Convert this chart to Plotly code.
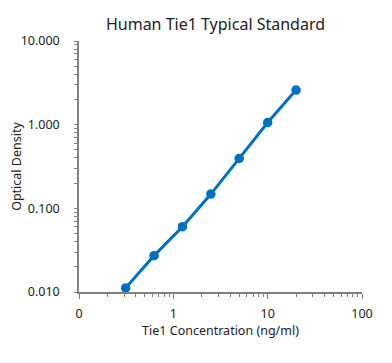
import plotly.graph_objects as go

concentration = [0.3125, 0.625, 1.25, 2.5, 5, 10, 20]
optical_density = [0.0112, 0.0272, 0.0603, 0.148, 0.395, 1.06, 2.59]

x_tickvals = [0.1, 1, 10, 100]
x_ticktext = ["0", "1", "10", "100"]
y_tickvals = [0.01, 0.1, 1, 10]
y_ticktext = ["0.010", "0.100", "1.000", "10.000"]
x_minor = [m * d for d in (0.1, 1, 10) for m in range(2, 10)]
y_minor = [m * d for d in (0.01, 0.1, 1) for m in range(2, 10)]

axis_color = "#808080"
font_family = "Noto Sans"

# page body has an 8px default margin, so the figure is shifted by 8px
fig = go.Figure()
fig.add_trace(go.Scatter(
    x=concentration, y=optical_density, mode="lines+markers",
    line=dict(color="#0070C0", width=3),
    marker=dict(color="#0070C0", size=9.5),
    cliponaxis=False,
))

fig.update_layout(
    width=384, height=355,
    margin=dict(l=71, r=30, t=33, b=71, autoexpand=False),
    paper_bgcolor="white", plot_bgcolor="white",
    showlegend=False,
    font=dict(family=font_family, color="#222222", size=12),
    title=dict(text="Human Tie1 Typical Standard", x=207.5 / 384, xanchor="center",
               y=1 - 16 / 355, yanchor="middle", font=dict(size=16, color="#222222")),
)
fig.update_xaxes(
    type="log", range=[-1, 2], automargin=False,
    tickvals=x_tickvals, ticktext=x_ticktext,
    showgrid=False, zeroline=False,
    showline=True, linecolor=axis_color, linewidth=1.5,
    ticks="outside", ticklen=5, tickcolor=axis_color,
    ticklabelstandoff=4,
    minor=dict(ticks="outside", ticklen=3, tickcolor=axis_color, showgrid=False,
               tickvals=x_minor),
    title=dict(text="Tie1 Concentration (ng/ml)", font=dict(size=12.5), standoff=5),
    tickfont=dict(size=12.5),
)
fig.update_yaxes(
    type="log", range=[-2, 1], automargin=False,
    tickvals=y_tickvals, ticktext=y_ticktext,
    showgrid=False, zeroline=False,
    showline=True, linecolor=axis_color, linewidth=1.5,
    ticks="outside", ticklen=3, tickcolor=axis_color,
    ticklabelstandoff=12,
    minor=dict(ticks="outside", ticklen=3, tickcolor=axis_color, showgrid=False,
               tickvals=y_minor),
    title=dict(text="Optical Density", font=dict(size=12.5), standoff=6),
    tickfont=dict(size=12.5),
)

fig.write_html("out.html")
